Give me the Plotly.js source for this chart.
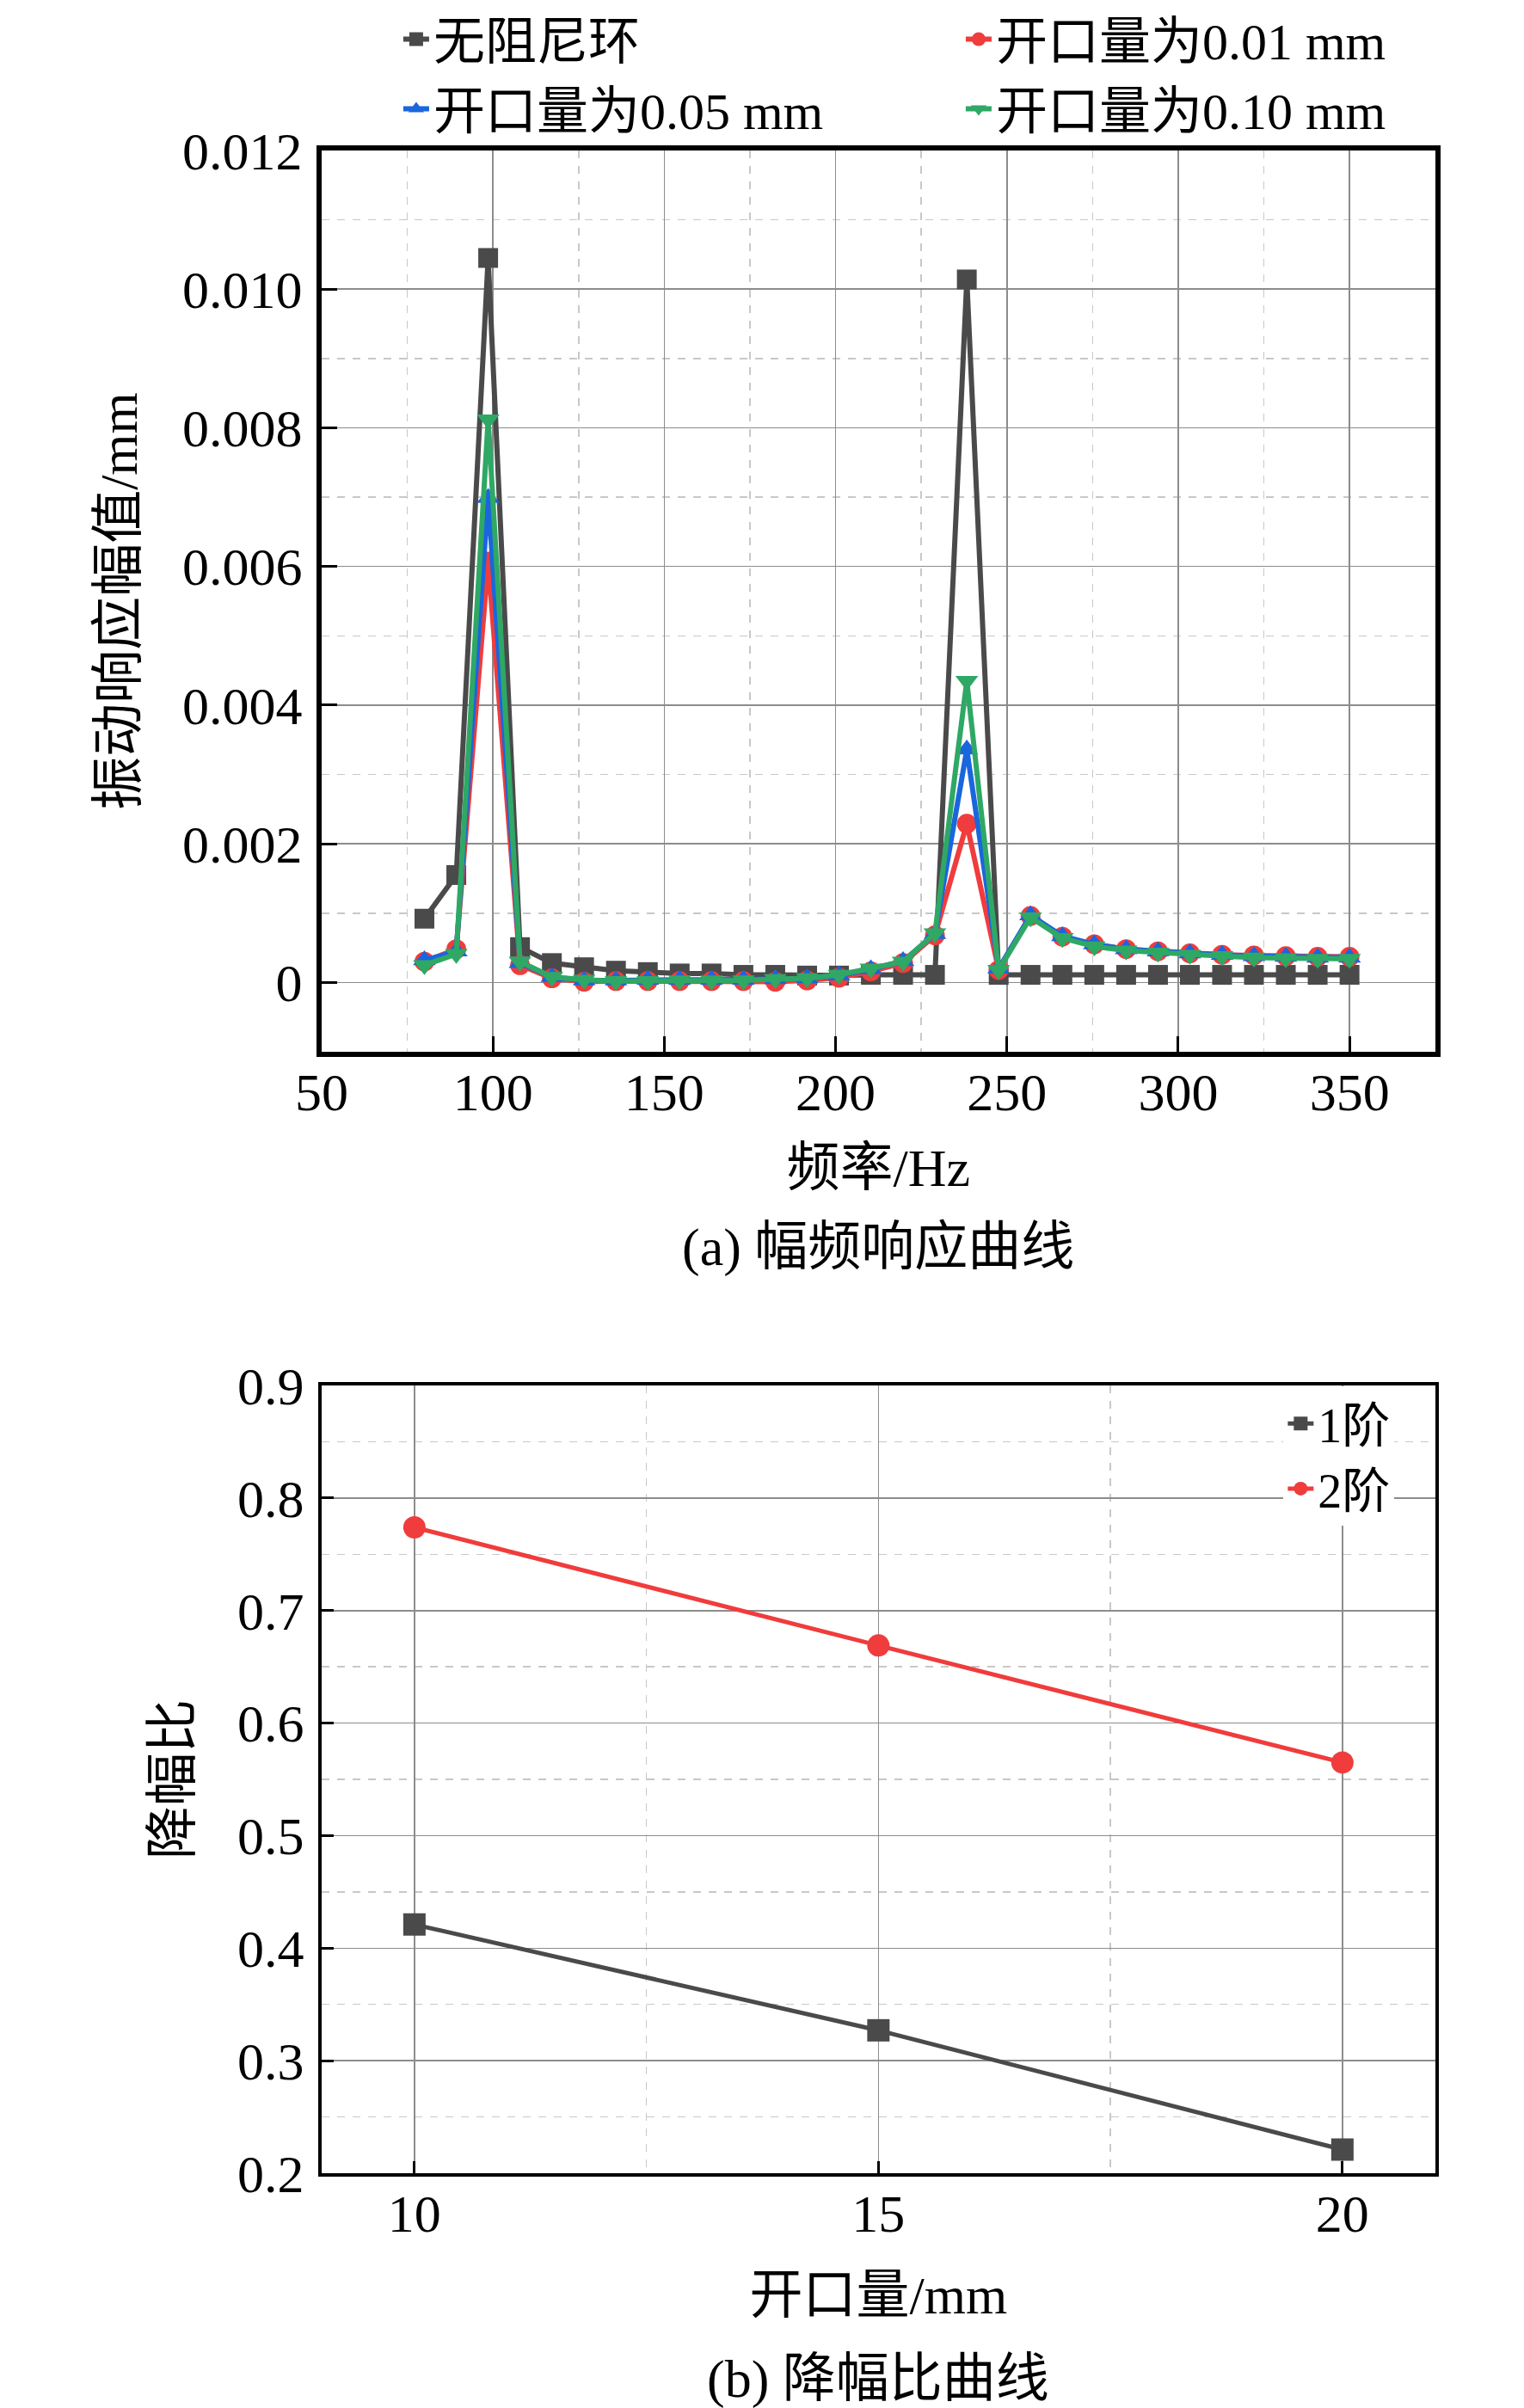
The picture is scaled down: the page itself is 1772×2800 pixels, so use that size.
<!DOCTYPE html>
<html>
<head>
<meta charset="utf-8">
<script src="https://cdn.plot.ly/plotly-3.0.1.min.js"></script>
<style>
  body { margin: 0; background: #fff; }
  #myDiv { width: 1772px; height: 2800px; }
</style>
</head>
<body>
<div id="myDiv"></div>
<script>
// (a) amplitude-frequency response
var freq = [80, 89.3, 98.6, 107.9, 117.2, 126.6, 135.9, 145.2, 154.5, 163.8,
            173.1, 182.4, 191.7, 201.0, 210.3, 219.7, 229.0, 238.3, 247.6, 256.9,
            266.2, 275.5, 284.8, 294.1, 303.4, 312.8, 322.1, 331.4, 340.7, 350];

var noRing = [0.00092, 0.00155, 0.01045, 0.00051, 0.00028, 0.00022, 0.00017, 0.00015, 0.00013, 0.00013,
              0.00011, 0.00011, 0.00010, 0.00010, 0.00011, 0.00011, 0.00011, 0.01014, 0.00011, 0.00011,
              0.00011, 0.00011, 0.00011, 0.00011, 0.00011, 0.00011, 0.00011, 0.00011, 0.00011, 0.00011];

var gap001 = [0.00030, 0.00048, 0.00607, 0.00025, 0.00006, 0.00001, 0.00002, 0.00002, 0.00002, 0.00002,
              0.00002, 0.00001, 0.00003, 0.00007, 0.00016, 0.00028, 0.00068, 0.00229, 0.00018, 0.00096,
              0.00066, 0.00055, 0.00048, 0.00045, 0.00042, 0.00040, 0.00039, 0.00038, 0.00037, 0.00037];

var gap005 = [0.00032, 0.00045, 0.00699, 0.00028, 0.00008, 0.00003, 0.00003, 0.00004, 0.00004, 0.00004,
              0.00004, 0.00005, 0.00006, 0.00010, 0.00019, 0.00031, 0.00070, 0.00336, 0.00020, 0.00097,
              0.00067, 0.00055, 0.00048, 0.00045, 0.00042, 0.00040, 0.00038, 0.00037, 0.00036, 0.00036];

var gap010 = [0.00025, 0.00041, 0.00812, 0.00030, 0.00008, 0.00004, 0.00002, 0.00002, 0.00003, 0.00003,
              0.00003, 0.00005, 0.00006, 0.00011, 0.00020, 0.00030, 0.00071, 0.00435, 0.00018, 0.00094,
              0.00064, 0.00052, 0.00046, 0.00043, 0.00040, 0.00038, 0.00036, 0.00035, 0.00034, 0.00034];

var yTickVals = [0, 0.002, 0.004, 0.006, 0.008, 0.010, 0.012];
var yTickText = ['0', '0.002', '0.004', '0.006', '0.008', '0.010', '0.012'];

// (b) amplitude reduction ratio
var opening = [10, 15, 20];
var order1 = [0.421, 0.327, 0.221];
var order2 = [0.774, 0.669, 0.565];

var font = "'Liberation Serif', 'Noto Sans CJK SC', serif";
var gray = '#4a4a4a', red = '#f03c3c', blue = '#1a66dd', green = '#2fa865';

function series(x, y, name, color, symbol, xa, ya, leg, size, lw) {
  return {
    type: 'scatter', mode: 'lines+markers',
    x: x, y: y, name: name,
    xaxis: xa, yaxis: ya, legend: leg,
    line: { color: color, width: lw },
    marker: { color: color, symbol: symbol, size: size, line: { width: 0 } }
  };
}

var data = [
  series(freq, noRing, '无阻尼环', gray, 'square', 'x', 'y', 'legend', 23, 6),
  series(freq, gap001, '开口量为0.01 mm', red, 'circle', 'x', 'y', 'legend', 23, 6),
  series(freq, gap005, '开口量为0.05 mm', blue, 'triangle-up', 'x', 'y', 'legend', 23, 6),
  series(freq, gap010, '开口量为0.10 mm', green, 'triangle-down', 'x', 'y', 'legend', 23, 6),
  series(opening, order1, '1阶', gray, 'square', 'x2', 'y2', 'legend2', 26, 5),
  series(opening, order2, '2阶', red, 'circle', 'x2', 'y2', 'legend2', 26, 5)
];

function axis(extra) {
  var a = {
    showline: true, linecolor: '#000', mirror: true,
    ticks: 'inside', tickcolor: '#000', tickwidth: 3,
    showgrid: true, gridcolor: '#8c8c8c', gridwidth: 1.5,
    zeroline: false,
    tickfont: { family: font, size: 62, color: '#000' }
  };
  for (var k in extra) a[k] = extra[k];
  return a;
}

function minorGrid(d) {
  return { dtick: d, showgrid: true, gridcolor: '#c8c8c8', griddash: 'dash', gridwidth: 1.5, ticks: '' };
}

var titleFont = { family: font, size: 62, color: '#000' };

var layout = {
  width: 1772, height: 2800,
  margin: { l: 0, r: 0, t: 0, b: 0 },
  paper_bgcolor: '#fff', plot_bgcolor: '#fff',
  font: { family: font, color: '#000' },
  xaxis: axis({
    domain: [0.212, 0.946], anchor: 'y', range: [50, 375], dtick: 50, tick0: 0,
    linewidth: 6, ticklen: 18, ticklabelstandoff: -12,
    minor: minorGrid(25),
    title: { text: '频率/Hz', standoff: 34, font: titleFont }
  }),
  yaxis: axis({
    domain: [0.5632, 0.9375], anchor: 'x', range: [-0.001, 0.012],
    tickvals: yTickVals, ticktext: yTickText,
    linewidth: 6, ticklen: 18, ticklabelstandoff: 4,
    minor: { tickvals: [0.001, 0.003, 0.005, 0.007, 0.009, 0.011], showgrid: true, gridcolor: '#c8c8c8', griddash: 'dash', gridwidth: 1.5, ticks: '' },
    title: { text: '振动响应幅值/mm', standoff: 34, font: titleFont }
  }),
  xaxis2: axis({
    domain: [0.212, 0.946], anchor: 'y2', range: [9, 21], dtick: 5, tick0: 0,
    linewidth: 4, ticklen: 14, ticklabelstandoff: -10,
    minor: minorGrid(2.5),
    title: { text: '开口量/mm', standoff: 40, font: titleFont }
  }),
  yaxis2: axis({
    domain: [0.0975, 0.4246], anchor: 'x2', range: [0.2, 0.9], dtick: 0.1, tick0: 0,
    linewidth: 4, ticklen: 14, ticklabelstandoff: 4,
    minor: minorGrid(0.05),
    title: { text: '降幅比', standoff: 34, font: titleFont }
  }),
  legend: {
    orientation: 'h', x: 0.263, y: 1.0, xanchor: 'left', yanchor: 'top',
    entrywidth: 609, entrywidthmode: 'pixels',
    font: { family: font, size: 60, color: '#000' },
    bgcolor: 'rgba(0,0,0,0)', tracegroupgap: 0
  },
  legend2: {
    x: 0.846, y: 0.4242, xanchor: 'left', yanchor: 'top',
    font: { family: font, size: 56, color: '#000' },
    bgcolor: '#fff'
  },
  annotations: [
    { text: '(a) 幅频响应曲线', xref: 'paper', yref: 'paper', x: 0.579, y: 0.4821,
      showarrow: false, xanchor: 'center', yanchor: 'middle', font: titleFont },
    { text: '(b) 降幅比曲线', xref: 'paper', yref: 'paper', x: 0.579, y: 0.0121,
      showarrow: false, xanchor: 'center', yanchor: 'middle', font: titleFont }
  ],
  showlegend: true
};

Plotly.newPlot('myDiv', data, layout, { staticPlot: true });
</script>
</body>
</html>
